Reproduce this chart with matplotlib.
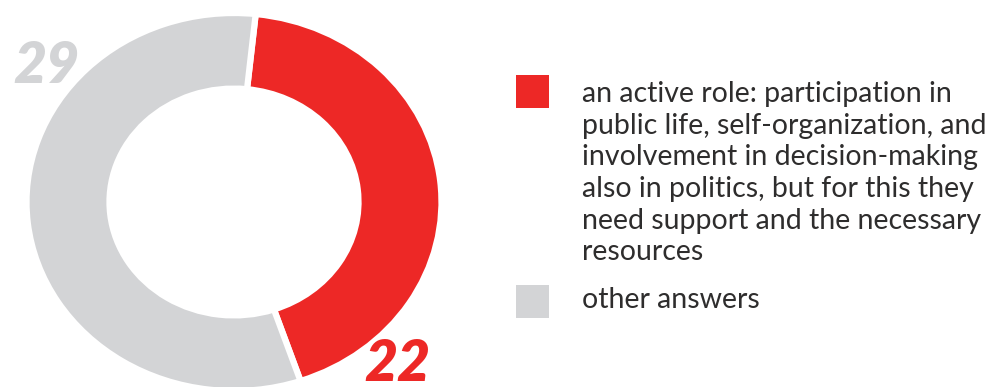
import matplotlib.pyplot as plt
from matplotlib.patches import Rectangle

labels = ["an active role: participation in\npublic life, self-organization, and\n"
          "involvement in decision-making\nalso in politics, but for this they\n"
          "need support and the necessary\nresources",
          "other answers"]
values = [22, 29]
colors = ["#ED2826", "#D3D4D6"]

W, H = 986, 387
fig = plt.figure(figsize=(W / 100, H / 100), dpi=100)


def px(x, y):
    # pixel position (from top-left) -> figure fraction
    return x / W, 1 - y / H


# donut, slightly squashed vertically
cx, cy, rx, ry = 234, 202, 207.5, 189
ax = fig.add_axes([(cx - rx) / W, 1 - (cy + ry) / H, 2 * rx / W, 2 * ry / H])
ax.pie(values, colors=colors, startangle=84, counterclock=False,
       wedgeprops=dict(width=0.40, edgecolor="white", linewidth=4.5))
ax.set_aspect("auto")
ax.set_xlim(-1, 1)
ax.set_ylim(-1, 1)
ax.axis("off")

num_font = dict(family="Lato", weight="heavy", style="italic", fontsize=41)
fig.text(*px(13, 83), str(values[1]), color=colors[1], ha="left", va="baseline", **num_font)
fig.text(*px(364, 381), str(values[0]), color=colors[0], ha="left", va="baseline", **num_font)

# legend squares
sq = 33
for top, c in [(75, colors[0]), (285, colors[1])]:
    x0, y0 = px(516, top + sq)
    fig.patches.append(Rectangle((x0, y0), sq / W, sq / H, transform=fig.transFigure,
                                 facecolor=c, edgecolor="none"))

# legend text, one line at a time
txt_font = dict(family="Lato", weight="normal", fontsize=20.5, color="#2E2D2D")
for i, line in enumerate(labels[0].split("\n")):
    fig.text(*px(582, 102 + i * 31.7), line, ha="left", va="baseline", **txt_font)
fig.text(*px(582, 308), labels[1], ha="left", va="baseline", **txt_font)

fig.savefig("out.png", dpi=100)
